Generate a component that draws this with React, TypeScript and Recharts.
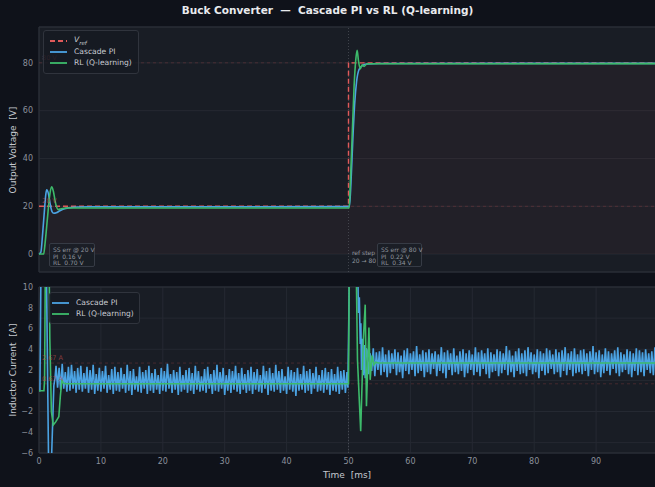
import React from 'react';
import { ComposedChart, Line, XAxis, YAxis, CartesianGrid, ReferenceLine, ReferenceArea } from 'recharts';

// ---- reference voltage (step at 50 ms) ----
const vrefT = [0, 50, 50, 100];
const vrefV = [20, 20, 80, 80];
const vrefLevels = [20, 80];
const stepTime = 50;

// ---- output voltage ----
const piVoltT = [0, 0.3, 0.6, 0.9, 1.1, 1.25, 1.5, 1.8, 2.1, 2.4, 2.8, 3.3, 4.0, 5.0, 6.5, 8.0, 50.0,
  50.15, 50.4, 50.7, 51.0, 51.3, 51.7, 52.2, 53.0, 55.0, 100];
const piVoltV = [0, 0.8, 9, 19, 25, 26.9, 25.5, 21, 17.8, 17.1, 17.3, 18.0, 18.9, 19.4, 19.7, 19.8, 19.84,
  19.84, 30, 48, 63, 72, 77.2, 78.8, 79.5, 79.75, 79.78];

const rlVoltT = [0, 0.75, 1.0, 1.4, 1.75, 2.05, 2.3, 2.7, 3.1, 3.6, 4.5, 50.0,
  50.1, 50.3, 50.6, 50.9, 51.2, 51.4, 51.6, 51.9, 52.2, 52.5, 53.0, 100];
const rlVoltV = [0, 0, 5, 16, 25, 28.1, 26.5, 21, 18.6, 19.0, 19.3, 19.3,
  19.3, 30, 50, 70, 82, 85.3, 81, 77.5, 79.2, 78.5, 79.6, 79.66];

// ---- inductor current ----
const iLevels = [0.67, 2.67];

const piCurStartT = [0, 0.15, 0.35, 1.15, 1.55, 2.0, 2.4, 2.6];
const piCurStartV = [0, 0, 14, 14, -7, -7, 0.5, 1.3];

// ripple at 20 V, sampled every 0.25 ms from 2.75 ms
const piRipple20 = [
  2.4, 0.3, 2.2, 0.1, 2.6, 0.2, 1.8, -0.1, 2.3, 0.0, 2.5, 0.2, 1.9, -0.2, 2.2, 0.1, 2.4, -0.1, 1.7, 0.2,
  2.3, -0.2, 2.0, 0.1, 2.5, -0.3, 1.6, 0.0, 2.2, -0.1, 1.9, 0.2, 2.4, -0.2, 1.5, 0.1, 2.1, -0.3, 2.3, 0.0,
  1.8, -0.1, 2.2, 0.2, 1.6, -0.2, 2.5, 0.0, 1.9, -0.4, 2.1, 0.1, 1.4, -0.1, 2.3, -0.2, 1.8, 0.2, 2.0, -0.3,
  2.4, 0.0, 1.7, -0.2, 2.1, 0.1, 1.5, -0.3, 2.2, 0.0, 1.9, -0.1, 2.6, 0.2, 1.6, -0.2, 2.0, 0.1, 1.8, -0.4,
  2.3, -0.1, 1.5, 0.1, 2.0, -0.2, 2.2, 0.0, 1.7, -0.3, 2.4, 0.1, 1.9, -0.1, 1.4, 0.0, 2.1, -0.2, 2.3, 0.2,
  1.6, -0.3, 2.0, 0.0, 2.5, -0.1, 1.8, 0.2, 2.2, -0.4, 1.5, 0.0, 2.1, -0.2, 1.9, 0.1, 2.4, -0.1, 1.7, -0.3,
  2.2, 0.1, 1.6, -0.2, 2.0, 0.0, 2.3, -0.3, 1.8, 0.1, 2.1, -0.1, 1.5, -0.2, 2.4, 0.2, 1.9, -0.4, 2.2, 0.0,
  1.7, -0.1, 2.5, 0.1, 1.9, -0.2, 2.1, 0.0, 1.4, -0.3, 2.3, 0.1, 2.0, -0.1, 1.8, -0.5, 2.2, 0.0, 1.6, 0.1,
  2.4, -0.2, 1.9, 0.0, 2.1, -0.3, 1.7, 0.2, 2.3, -0.1, 1.5, 0.0, 2.0, -0.2, 2.2, 0.1, 1.8, -0.4,
  2.1, 0.0, 1.6, -0.1, 2.3, -0.3, 1.9, 0.1, 2.0, -0.2, 1.8,
];
const ripple20Start = 2.75;

const piCurStepT = [49.9, 50.2, 51.45, 51.6, 51.75, 51.9, 52.0, 52.1, 52.25, 52.4, 52.55, 52.7, 52.85];
const piCurStepV = [0.3, 14, 14, 7.5, 9.0, 4.5, 6.5, 2.0, 5.0, 1.5, 4.4, 1.2, 4.1];

// ripple at 80 V, sampled every 0.25 ms from 53 ms
const piRipple80 = [
  3.9, 1.6, 3.6, 1.9, 4.1, 1.4, 3.7, 2.0, 3.8, 1.5, 4.2, 1.8, 3.5, 1.3, 3.9, 1.7, 3.6, 2.1, 4.0, 1.5,
  3.7, 1.8, 3.4, 1.2, 3.9, 1.9, 4.1, 1.6, 3.6, 2.0, 3.8, 1.4, 4.3, 1.7, 3.5, 1.9, 3.9, 1.3, 3.7, 1.8,
  4.0, 1.6, 3.6, 2.1, 3.8, 1.4, 3.5, 1.9, 4.2, 1.7, 3.7, 1.2, 3.9, 2.0, 3.6, 1.5, 4.1, 1.8, 3.4, 1.6,
  3.8, 1.9, 4.0, 1.3, 3.6, 1.7, 3.9, 2.0, 3.5, 1.5, 4.2, 1.8, 3.7, 1.4, 3.9, 2.1, 3.6, 1.6, 4.1, 1.2,
  3.7, 1.8, 3.5, 1.9, 4.0, 1.4, 3.8, 1.7, 3.6, 2.0, 4.3, 1.5, 3.9, 1.8, 3.4, 1.3, 3.8, 1.9, 4.1, 1.6,
  3.6, 1.7, 3.9, 1.4, 4.2, 2.0, 3.7, 1.6, 3.5, 1.8, 4.0, 1.2, 3.8, 1.9, 3.6, 1.5, 4.1, 1.7, 3.9, 2.1,
  3.5, 1.6, 4.0, 1.8, 3.7, 1.3, 3.9, 1.9, 4.2, 1.5, 3.6, 2.0, 3.8, 1.4, 4.1, 1.7, 3.5, 1.8, 3.9, 1.6,
  4.0, 1.9, 3.6, 1.4, 3.8, 2.0, 4.3, 1.6, 3.7, 1.8, 3.9, 1.3, 3.5, 1.7, 4.1, 1.9, 3.8, 1.5, 3.6, 2.1,
  3.9, 1.7, 4.2, 1.4, 3.7, 1.8, 3.5, 2.0, 4.0, 1.6, 3.8, 1.3, 3.6, 1.9, 4.1, 1.5, 3.9, 1.8, 3.7, 1.4,
  4.0, 2.0, 3.6, 1.7, 3.8, 1.5, 4.2, 1.9, 3.7,
];
const ripple80Start = 53.0;
const rippleStep = 0.25;

const rlCurT = [0, 0.8, 0.9, 1.05, 1.6, 1.75, 2.0, 2.3, 2.7, 3.2, 3.45, 3.7, 3.9, 4.2, 50.0,
  50.15, 51.2, 51.45, 51.97, 52.4, 52.7, 52.9, 53.3, 53.5, 53.8, 54.1, 54.4, 54.8, 100];
const rlCurV = [0, 0, 1, 14, 14, 5, -2, -3.3, -3.0, -2.5, -0.5, 1.05, 0.75, 0.67, 0.67,
  14, 14, 3, -3.9, 5, 8.3, -1.5, 6.1, 1.05, 3.4, 2.5, 2.75, 2.67, 2.67];

// ---- axes ----
const timeTicks = [0, 10, 20, 30, 40, 50, 60, 70, 80, 90];
const voltTicks = [0, 20, 40, 60, 80];
const currTicks = [-6, -5, -4, -3, -2, -1, 0, 1, 2, 3, 4, 5, 6, 7, 8, 9, 10];

const pts = (ts: number[], vs: number[]) => ts.map((t, i) => ({ t, v: vs[i] }));
const ripple = (start: number, vs: number[]) => vs.map((v, i) => ({ t: start + i * rippleStep, v }));

const vrefData = pts(vrefT, vrefV);
const piVolt = pts(piVoltT, piVoltV);
const rlVolt = pts(rlVoltT, rlVoltV);
const piCur = [
  ...pts(piCurStartT, piCurStartV),
  ...ripple(ripple20Start, piRipple20),
  ...pts(piCurStepT, piCurStepV),
  ...ripple(ripple80Start, piRipple80),
];
const rlCur = pts(rlCurT, rlCurV);

const FONT = '"DejaVu Sans", sans-serif';
const BG = '#0f121a';
const PANEL = '#191d25';
const GRID = '#252932';
const TICK = '#8b919a';
const BLUE = '#4ba3e3';
const GREEN = '#3dbb6b';
const RED = '#e05a5a';
const FAINT_RED = '#b84a4a';

const tickStyle = { fill: TICK, fontSize: 8, fontFamily: FONT };
const minus = (v: number) => String(v).replace('-', '\u2212');

const refSteps = vrefLevels.map((level, i) => ({
  from: i === 0 ? 0 : stepTime,
  to: i === 0 ? stepTime : 100,
  level,
}));

function LegendRow({ color, dashed, children, w }: { color: string; dashed?: boolean; children: React.ReactNode; w: number }) {
  return (
    <div style={{ display: 'flex', alignItems: 'center', height: 11 }}>
      <svg width={w} height={4} style={{ marginRight: 7 }}>
        <line x1={0} x2={w} y1={2} y2={2} stroke={color} strokeWidth={1.8} strokeDasharray={dashed ? '5 3' : undefined} />
      </svg>
      <span>{children}</span>
    </div>
  );
}

const legendBox: React.CSSProperties = {
  position: 'absolute',
  background: 'rgba(22,26,34,0.82)',
  border: '1px solid #30343d',
  borderRadius: 3,
  color: '#c9ccd2',
  fontSize: 7.6,
  fontFamily: FONT,
  boxSizing: 'border-box',
};

const noteBox: React.CSSProperties = {
  position: 'absolute',
  background: 'rgba(26,30,38,0.85)',
  border: '1px solid #363b45',
  borderRadius: 2,
  color: '#8f959e',
  fontSize: 6,
  lineHeight: '6.6px',
  fontFamily: FONT,
  padding: '3px 3px',
  boxSizing: 'border-box',
  whiteSpace: 'pre',
};

const axisTitle: React.CSSProperties = {
  position: 'absolute',
  transform: 'translate(-50%, -50%) rotate(-90deg)',
  whiteSpace: 'pre',
  color: '#c5c9cf',
  fontSize: 9,
  fontFamily: FONT,
};

export default function App() {
  return (
    <div style={{ position: 'fixed', left: 0, top: 0, width: 655, height: 487, background: BG, overflow: 'hidden', fontFamily: FONT }}>
      <div style={{ position: 'absolute', top: 4, left: 0, width: 655, textAlign: 'center', color: '#e9ebee', fontWeight: 'bold', fontSize: 10.5, whiteSpace: 'pre' }}>
        {'Buck Converter  \u2014  Cascade PI vs RL (Q-learning)'}
      </div>

      {/* voltage panel */}
      <div style={{ position: 'absolute', left: 0, top: 0 }}>
        <ComposedChart width={662} height={280} margin={{ top: 27, right: 4, bottom: 8, left: 0 }}>
          <CartesianGrid stroke={GRID} fill={PANEL} />
          <XAxis type="number" dataKey="t" domain={[0, 100]} ticks={timeTicks} height={0} tick={false} axisLine={false} tickLine={false} />
          <YAxis type="number" domain={[-7.5, 95]} ticks={voltTicks} width={39} tick={tickStyle} axisLine={false} tickLine={false} tickSize={4} tickMargin={2} allowDataOverflow />
          {refSteps.map((s) => (
            <ReferenceArea key={s.level} x1={s.from} x2={s.to} y1={0} y2={s.level} fill={RED} fillOpacity={0.05} stroke="none" />
          ))}
          <ReferenceArea x1={0} x2={100} y1={-7.5} y2={95} fill="none" stroke="#2c3039" />
          {vrefLevels.map((l) => (
            <ReferenceLine key={l} y={l} stroke={FAINT_RED} strokeOpacity={0.35} strokeWidth={0.8} strokeDasharray="3 3"
              label={{ value: `${l} V`, position: 'insideBottomLeft', offset: 3, fill: FAINT_RED, fillOpacity: 0.7, fontSize: 6.5, fontFamily: FONT }} />
          ))}
          <ReferenceLine x={stepTime} stroke="#777c85" strokeOpacity={0.5} strokeWidth={0.8} strokeDasharray="1 2" />
          <Line data={vrefData} dataKey="v" type="linear" stroke={RED} strokeWidth={1.4} strokeDasharray="5 3" dot={false} isAnimationActive={false} />
          <Line data={piVolt} dataKey="v" type="monotone" stroke={BLUE} strokeWidth={1.6} dot={false} isAnimationActive={false} />
          <Line data={rlVolt} dataKey="v" type="monotone" stroke={GREEN} strokeWidth={1.6} dot={false} isAnimationActive={false} />
        </ComposedChart>
      </div>

      {/* current panel */}
      <div style={{ position: 'absolute', left: 0, top: 280 }}>
        <ComposedChart width={662} height={207} margin={{ top: 7, right: 4, bottom: 0, left: 0 }}>
          <CartesianGrid stroke={GRID} fill={PANEL} />
          <XAxis type="number" dataKey="t" domain={[0, 100]} ticks={timeTicks} height={34} tick={tickStyle} axisLine={false} tickLine={false} tickSize={3} tickMargin={2} />
          <YAxis type="number" domain={[-6, 10]} ticks={currTicks} width={39} tick={tickStyle} tickFormatter={minus} axisLine={false} tickLine={false} tickSize={4} tickMargin={2} allowDataOverflow />
          <ReferenceArea x1={0} x2={100} y1={-6} y2={10} fill="none" stroke="#2c3039" />
          {iLevels.map((l) => (
            <ReferenceLine key={l} y={l} stroke={FAINT_RED} strokeOpacity={0.35} strokeWidth={0.8} strokeDasharray="3 3"
              label={{ value: `${l.toFixed(2)} A`, position: 'insideBottomLeft', offset: 3, fill: FAINT_RED, fillOpacity: 0.7, fontSize: 6.5, fontFamily: FONT }} />
          ))}
          <ReferenceLine x={stepTime} stroke="#777c85" strokeOpacity={0.5} strokeWidth={0.8} strokeDasharray="1 2" />
          <Line data={piCur} dataKey="v" type="linear" stroke={BLUE} strokeWidth={1.6} dot={false} isAnimationActive={false} />
          <Line data={rlCur} dataKey="v" type="linear" stroke={GREEN} strokeWidth={1.6} dot={false} isAnimationActive={false} />
        </ComposedChart>
      </div>

      <div style={{ ...axisTitle, left: 13, top: 150 }}>{'Output Voltage  [V]'}</div>
      <div style={{ ...axisTitle, left: 13, top: 370 }}>{'Inductor Current  [A]'}</div>
      <div style={{ position: 'absolute', left: 347, top: 475, transform: 'translate(-50%, -50%)', color: '#c5c9cf', fontSize: 9, whiteSpace: 'pre' }}>
        {'Time  [ms]'}
      </div>

      {/* legends */}
      <div style={{ ...legendBox, left: 43, top: 30, width: 96, height: 44, padding: '4px 0 0 6px' }}>
        <LegendRow color={RED} dashed w={17}>
          <i>V</i><sub style={{ fontSize: 5.5 }}><i>ref</i></sub>
        </LegendRow>
        <LegendRow color={BLUE} w={17}>Cascade PI</LegendRow>
        <LegendRow color={GREEN} w={17}>RL (Q-learning)</LegendRow>
      </div>
      <div style={{ ...legendBox, left: 49, top: 292, width: 91, height: 32, padding: '4px 0 0 2px' }}>
        <LegendRow color={BLUE} w={17}>Cascade PI</LegendRow>
        <LegendRow color={GREEN} w={17}>RL (Q-learning)</LegendRow>
      </div>

      {/* steady-state notes */}
      <div style={{ ...noteBox, left: 49, top: 243, width: 46, height: 24 }}>{'SS err @ 20 V\nPI  0.16 V\nRL  0.70 V'}</div>
      <div style={{ ...noteBox, left: 377, top: 243, width: 45, height: 24 }}>{'SS err @ 80 V\nPI  0.22 V\nRL  0.34 V'}</div>
      <div style={{ position: 'absolute', left: 352, top: 249, color: '#8f959e', fontSize: 6, lineHeight: '7.5px', whiteSpace: 'pre' }}>
        {'ref step\n20 \u2192 80'}
      </div>
    </div>
  );
}
